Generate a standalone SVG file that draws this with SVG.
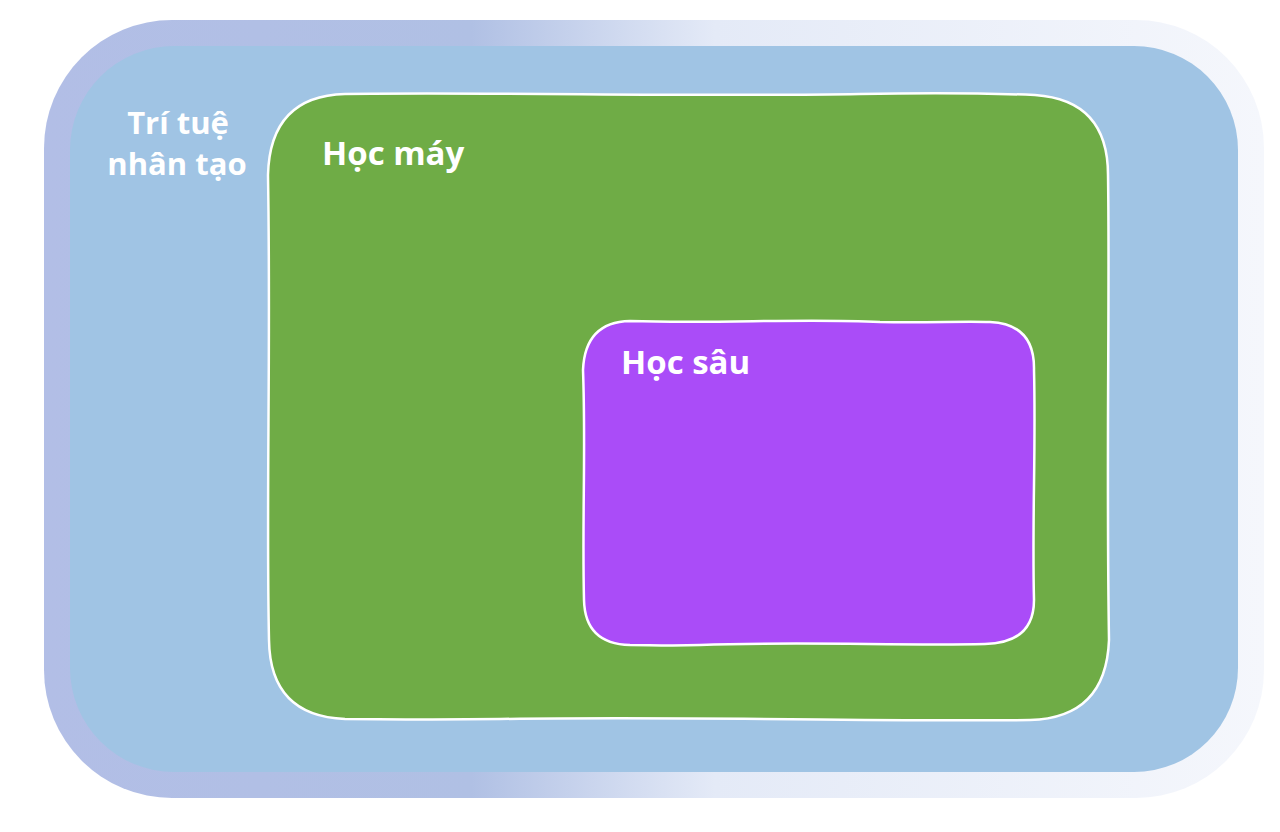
<svg xmlns="http://www.w3.org/2000/svg" width="1280" height="832" viewBox="0 0 1280 832">
<defs>
<linearGradient id="rim" x1="0" y1="0" x2="1" y2="0">
<stop offset="0" stop-color="#B2BEE6"/>
<stop offset="0.35" stop-color="#B0C0E4"/>
<stop offset="0.55" stop-color="#E4EAF7"/>
<stop offset="1" stop-color="#F5F7FC"/>
</linearGradient>
</defs>
<style>
.lbl{font-family:"Open Sans","Noto Sans","DejaVu Sans",sans-serif;font-weight:700;fill:#FFFFFF}
.edge{stroke:#FFFFFF;stroke-width:2.5;fill:none}
</style>
<rect width="1280" height="832" fill="#FFFFFF"/>
<g id="ai">
<rect x="44" y="20" width="1220" height="778" rx="128" fill="url(#rim)"/>
<rect x="70" y="46" width="1168" height="726" rx="104" fill="#A0C4E4"/>
<text class="lbl" x="178" y="134" font-size="31" text-anchor="middle">Trí tuệ</text>
<text class="lbl" x="177" y="175" font-size="31" text-anchor="middle">nhân tạo</text>
</g>
<g id="ml">
<path d="M345,94 C500,92 700,97 860,94 C950,92 1010,94 1035,95 Q1108,100 1108,175 C1110,300 1106,450 1109,640 Q1106,718 1030,720 C900,722 700,716 500,719 C420,720 380,719 345,719 Q270,716 269,640 C266,500 271,350 268,175 Q270,96 345,94 Z" fill="#6FAC46"/>
<path class="edge" d="M345,94 C500,92 700,97 860,94 C950,92 1010,94 1035,95 Q1108,100 1108,175 C1110,300 1106,450 1109,640 Q1106,718 1030,720 C900,722 700,716 500,719 C420,720 380,719 345,719 Q270,716 269,640 C266,500 271,350 268,175 Q270,96 345,94 Z"/>
<text class="lbl" x="322" y="165" font-size="33">Học máy</text>
</g>
<g id="dl">
<path d="M630,321 C720,324 800,318 880,322 C930,323 960,321 990,322 Q1035,324 1034,370 C1036,450 1032,520 1034,600 Q1034,643 985,644 C900,646 800,641 700,645 C670,646 650,645 630,645 Q585,644 584,600 C582,520 586,450 583,370 Q585,322 630,321 Z" fill="#AA4CF8"/>
<path class="edge" d="M630,321 C720,324 800,318 880,322 C930,323 960,321 990,322 Q1035,324 1034,370 C1036,450 1032,520 1034,600 Q1034,643 985,644 C900,646 800,641 700,645 C670,646 650,645 630,645 Q585,644 584,600 C582,520 586,450 583,370 Q585,322 630,321 Z"/>
<text class="lbl" x="621" y="374" font-size="33">Học sâu</text>
</g>
<g id="connectors"/>
</svg>
